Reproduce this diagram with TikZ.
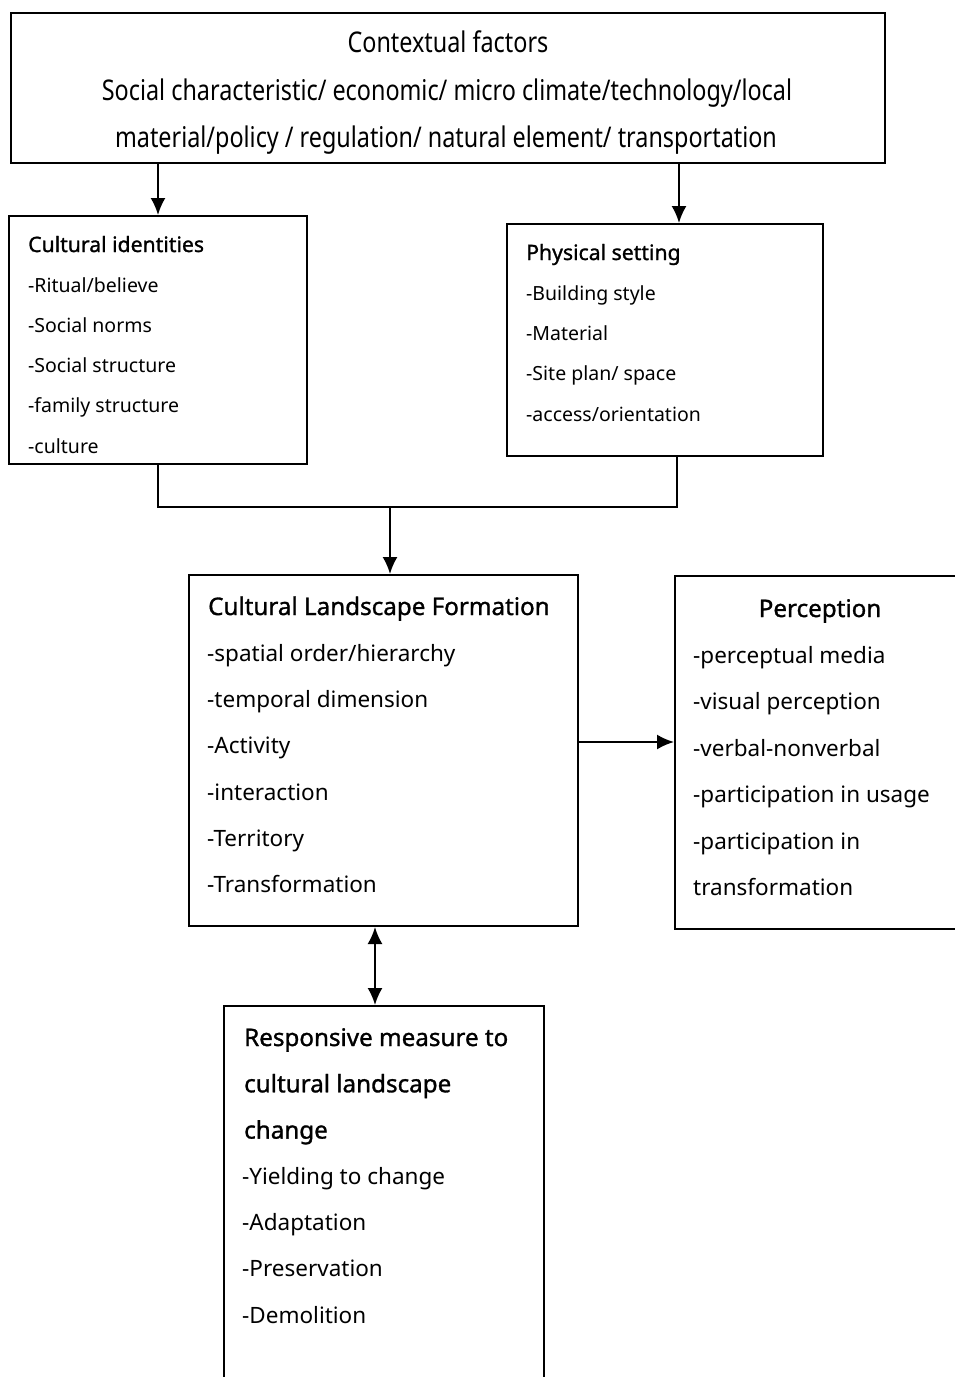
\documentclass[tikz,border=0pt]{standalone}
\usepackage{fontspec}
\setmainfont{Noto Sans}
\newfontfamily\condf[FakeStretch=0.82]{Noto Sans}
\newfontfamily\semib[FakeBold=1.2]{Noto Sans}
\usetikzlibrary{arrows.meta}
\tikzset{
  box/.style={draw, line width=2pt, inner sep=0pt, anchor=north west},
  tipx/.tip={Latex[length=17pt,width=15pt]},
  arr/.style={line width=2pt, -tipx},
  arrtwo/.style={line width=2pt, tipx-tipx},
  conn/.style={line width=2pt},
  ctxt/.style={inner sep=0pt, anchor=base, font=\condf\fontsize{28.5}{32}\selectfont},
  smitem/.style={inner sep=0pt, anchor=base west, font=\fontsize{19.5}{24}\selectfont},
  smtitle/.style={smitem, font=\semib\fontsize{21.2}{24}\selectfont},
  bgitem/.style={inner sep=0pt, anchor=base west, font=\fontsize{22.5}{28}\selectfont},
  bgtitle/.style={bgitem, font=\semib\fontsize{24.2}{28}\selectfont}
}
\begin{document}
\begin{tikzpicture}[x=1pt,y=-1pt]
\clip (0,0) rectangle (955,1377);
% boxes
\node[box, minimum width=874pt, minimum height=150pt] (ctx) at (10,12) {};
\node[box, minimum width=298pt, minimum height=248pt] (ci) at (8,215) {};
\node[box, minimum width=316pt, minimum height=232pt] (ps) at (506,223) {};
\node[box, minimum width=389pt, minimum height=351pt] (clf) at (188,574) {};
\node[box, minimum width=300pt, minimum height=353pt] (per) at (674,575) {};
\node[box, minimum width=320pt, minimum height=400pt] (rsp) at (223,1005) {};
% contextual text
\node[ctxt] (ctx-1) at (448,52) {Contextual factors};
\node[ctxt] (ctx-2) at (447,100) {Social characteristic/ economic/ micro climate/technology/local};
\node[ctxt] (ctx-3) at (446,147) {material/policy / regulation/ natural element/ transportation};
% cultural identities
\node[smtitle] (ci-0) at (28,252) {Cultural identities};
\foreach \t [count=\i] in {{-Ritual/believe},{-Social norms},{-Social structure},{-family structure},{-culture}}
  \node[smitem] (ci-\i) at (28,{252+40.2*\i}) {\t};
% physical setting
\node[smtitle] (ps-0) at (526,260) {Physical setting};
\foreach \t [count=\i] in {{-Building style},{-Material},{-Site plan/ space},{-access/orientation}}
  \node[smitem] (ps-\i) at (526,{260+40.25*\i}) {\t};
% cultural landscape formation
\node[bgtitle] (clf-0) at (208,615) {Cultural Landscape Formation};
\foreach \t [count=\i] in {{-spatial order/hierarchy},{-temporal dimension},{-Activity},{-interaction},{-Territory},{-Transformation}}
  \node[bgitem] (clf-\i) at (207,{615+46.3*\i}) {\t};
% perception
\node[bgtitle, anchor=base] (per-0) at (820,617) {Perception};
\foreach \t [count=\i] in {{-perceptual media},{-visual perception},{-verbal-nonverbal},{-participation in usage},{-participation in},{transformation}}
  \node[bgitem] (per-\i) at (693,{617+46.4*\i}) {\t};
% responsive measures
\foreach \t [count=\i] in {{Responsive measure to},{cultural landscape},{change}}
  \node[bgtitle] (rsp-t\i) at (244,{1046+46.3*(\i-1)}) {\t};
\foreach \t [count=\i] in {{-Yielding to change},{-Adaptation},{-Preservation},{-Demolition}}
  \node[bgitem] (rsp-\i) at (242,{1138+46.3*\i}) {\t};
% connectors
\draw[arr] (ci.north |- ctx.south) -- (ci.north);
\draw[arr] ([xshift=14pt]ps.north |- ctx.south) -- ([xshift=14pt]ps.north);
\coordinate (mid) at (390,507);
\draw[conn] (ci.south) -- (ci.south |- mid) -| ([xshift=12pt]ps.south);
\draw[arr] (mid) -- (mid |- clf.north);
\coordinate (side) at (0,742);
\draw[arr] (clf.east |- side) -- (per.west |- side);
\coordinate (dbl) at (375,0);
\draw[arrtwo] (clf.south -| dbl) -- (rsp.north -| dbl);
\end{tikzpicture}
\end{document}
